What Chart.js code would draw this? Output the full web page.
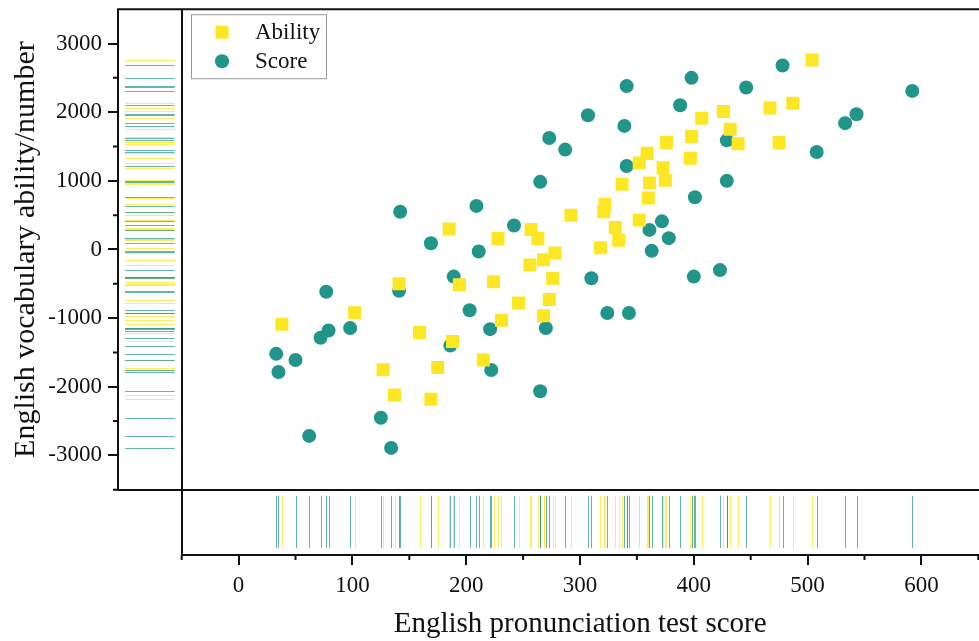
<!DOCTYPE html>
<html>
<head>
<meta charset="utf-8">
<script src="https://cdn.jsdelivr.net/npm/chart.js@4.4.0/dist/chart.umd.min.js"></script>
<style>
  html, body { margin: 0; padding: 0; background: #fff; overflow: hidden; }
  #wrap { width: 1000px; height: 641px; }
</style>
</head>
<body>
<div id="wrap"><canvas id="rugChart" width="1000" height="641"></canvas></div>
<script>
// Ability (yellow squares)
const abilityX = [504, 487, 467, 426, 407, 432, 439, 475, 398, 376, 397, 359, 352, 373, 375, 337, 361, 360, 322, 321,
                  292, 352, 331, 334, 318, 185, 228, 257, 263, 278, 268, 256, 276, 224, 194, 141, 273, 246, 268, 231,
                  102, 38, 159, 188, 215, 127, 175, 137, 169];
const abilityY = [2760, 2130, 2060, 2010, 1910, 1750, 1540, 1560, 1645, 1560, 1330, 1400, 1260, 1190, 1010, 950, 970, 750, 660, 550,
                  500, 430, 320, 135, 25, 300, 160, 290, 160, -50, -150, -225, -420, -470, -515, -500, -730, -780, -965, -1030,
                  -920, -1090, -1210, -1340, -1610, -1750, -1720, -2120, -2180];

// Score (teal circles)
const scoreX = [478, 592, 398, 341, 446, 388, 307, 339, 543, 533, 429, 508, 341, 429, 401, 372, 361, 378, 363, 273,
                287, 265, 142, 209, 242, 169, 211, 189, 77, 141, 203, 221, 270, 79, 72, 98, 186, 33, 50, 35,
                222, 265, 125, 62, 134, 310, 400, 423, 324, 343];
const scoreY = [2680, 2310, 2500, 2380, 2360, 2100, 1955, 1800, 1970, 1840, 1590, 1420, 1215, 1000, 760, 410, 285, 165, -20, 1625,
                1455, 985, 550, 635, 350, 90, -30, -395, -615, -600, -885, -1160, -1145, -1180, -1285, -1145, -1400, -1520, -1610, -1785,
                -1755, -2065, -2450, -2715, -2890, -420, -395, -300, -925, -925];

const xTickValues = [0, 100, 200, 300, 400, 500, 600];
const yTickValues = [-3000, -2000, -1000, 0, 1000, 2000, 3000];
const xMinorTicks = [-50, 50, 150, 250, 350, 450, 550, 650];
const yMinorTicks = [-3500, -2500, -1500, -500, 500, 1500, 2500];

const seriesNames = ['Ability', 'Score'];
const xTitle = 'English pronunciation test score';
const yTitle = 'English vocabulary ability/number';

const FONT = "'Liberation Serif', 'Times New Roman', serif";
const YELLOW = '#FDE725';
const TEAL = '#21958A';
const boxLeft = -50;     // edge of main plot box on x
const boxBottom = -3500; // edge of main plot box on y

function toPoints(xs, ys) {
    return xs.map((v, i) => ({ x: v, y: ys[i] }));
}

const rugPlugin = {
    id: 'rugPlugin',
    beforeDatasetsDraw(chart) {
        const { ctx, chartArea, scales: { x, y } } = chart;
        const bx = x.getPixelForValue(boxLeft);
        const by = y.getPixelForValue(boxBottom);
        ctx.save();
        ctx.lineWidth = 1;
        chart.data.datasets.forEach(ds => {
            ctx.strokeStyle = ds.rugColor;
            ds.data.forEach(p => {
                const py = Math.round(y.getPixelForValue(p.y)) + 0.5;
                ctx.beginPath();
                ctx.moveTo(chartArea.left + 7, py);
                ctx.lineTo(bx - 7, py);
                ctx.stroke();
                const px = Math.round(x.getPixelForValue(p.x)) + 0.5;
                ctx.beginPath();
                ctx.moveTo(px, by + 6);
                ctx.lineTo(px, chartArea.bottom - 7);
                ctx.stroke();
            });
        });
        ctx.restore();
    },
    afterDraw(chart) {
        const { ctx, chartArea, scales: { x, y } } = chart;
        const bx = Math.round(x.getPixelForValue(boxLeft));
        const by = Math.round(y.getPixelForValue(boxBottom));
        const L = chartArea.left, T = chartArea.top, R = chartArea.right, B = chartArea.bottom;
        ctx.save();
        ctx.strokeStyle = '#111';
        ctx.lineWidth = 2;
        ctx.beginPath();
        // left axis + top
        ctx.moveTo(L, by); ctx.lineTo(L, T); ctx.lineTo(R, T);
        // divider between rug and plot
        ctx.moveTo(bx, T); ctx.lineTo(bx, B);
        ctx.moveTo(L, by); ctx.lineTo(R, by);
        // bottom axis
        ctx.moveTo(bx, B); ctx.lineTo(R, B);
        ctx.stroke();

        // minor ticks
        ctx.beginPath();
        yMinorTicks.forEach(v => {
            const py = y.getPixelForValue(v);
            ctx.moveTo(L - 5, py); ctx.lineTo(L, py);
        });
        xMinorTicks.forEach(v => {
            const px = x.getPixelForValue(v);
            ctx.moveTo(px, B); ctx.lineTo(px, B + 5);
        });
        ctx.stroke();

        // axis titles
        ctx.fillStyle = '#111';
        ctx.textAlign = 'center';
        ctx.textBaseline = 'alphabetic';
        ctx.font = '29px ' + FONT;
        ctx.fillText(xTitle, (bx + x.getPixelForValue(650)) / 2, 632);
        ctx.save();
        ctx.font = '30px ' + FONT;
        ctx.translate(34, (T + by) / 2);
        ctx.rotate(-Math.PI / 2);
        ctx.fillText(yTitle, 0, 0);
        ctx.restore();

        // legend
        const lx = bx + 9, ly = T + 5;
        ctx.strokeStyle = '#999';
        ctx.lineWidth = 1;
        ctx.strokeRect(lx + 0.5, ly + 0.5, 135, 64);
        ctx.font = '23px ' + FONT;
        ctx.textAlign = 'left';
        ctx.textBaseline = 'middle';
        chart.data.datasets.forEach((ds, i) => {
            const cy = ly + 18 + i * 29;
            const cx = lx + 31;
            ctx.fillStyle = ds.backgroundColor;
            if (ds.pointStyle === 'rect') {
                ctx.fillRect(cx - 6.5, cy - 6.5, 13, 13);
            } else {
                ctx.beginPath();
                ctx.arc(cx, cy, 7, 0, Math.PI * 2);
                ctx.fill();
            }
            ctx.fillStyle = '#111';
            ctx.fillText(ds.label, lx + 64, cy + 1);
        });
        ctx.restore();
    }
};

const ctx = document.getElementById('rugChart').getContext('2d');
const chart = new Chart(ctx, {
    type: 'scatter',
    data: {
        datasets: [{
            label: seriesNames[0],
            data: toPoints(abilityX, abilityY),
            pointStyle: 'rect',
            pointRadius: 9.2,
            backgroundColor: YELLOW,
            borderWidth: 0,
            rugColor: 'rgba(253, 231, 37, 0.75)'
        }, {
            label: seriesNames[1],
            data: toPoints(scoreX, scoreY),
            pointStyle: 'circle',
            pointRadius: 7,
            backgroundColor: TEAL,
            borderWidth: 0,
            rugColor: 'rgba(33, 149, 138, 0.7)'
        }]
    },
    options: {
        responsive: false,
        animation: false,
        devicePixelRatio: 1,
        layout: { padding: { top: 8, right: 1, left: 0, bottom: 0 } },
        plugins: {
            legend: { display: false },
            tooltip: { enabled: false }
        },
        scales: {
            x: {
                type: 'linear',
                min: -106,
                max: 661,
                border: { display: false },
                grid: { drawOnChartArea: false, drawTicks: true, tickLength: 10, color: '#111', lineWidth: 2 },
                ticks: {
                    autoSkip: false,
                    maxRotation: 0,
                    padding: 7,
                    color: '#111',
                    font: { family: FONT, size: 23 },
                    callback: v => String(v)
                },
                afterBuildTicks(scale) {
                    scale.ticks = xTickValues.map(v => ({ value: v }));
                },
                afterFit(scale) {
                    scale.height = 86;
                    scale.paddingLeft = 0;
                    scale.paddingRight = 0;
                }
            },
            y: {
                type: 'linear',
                min: -4450,
                max: 3500,
                border: { display: false },
                grid: { drawOnChartArea: false, drawTicks: true, tickLength: 10, color: '#111', lineWidth: 2 },
                ticks: {
                    padding: 6,
                    color: '#111',
                    font: { family: FONT, size: 23 },
                    callback: v => String(v)
                },
                afterBuildTicks(scale) {
                    scale.ticks = yTickValues.map(v => ({ value: v }));
                },
                afterFit(scale) {
                    scale.width = 118;
                    scale.paddingTop = 0;
                    scale.paddingBottom = 0;
                }
            }
        }
    },
    plugins: [rugPlugin]
});
</script>
</body>
</html>
